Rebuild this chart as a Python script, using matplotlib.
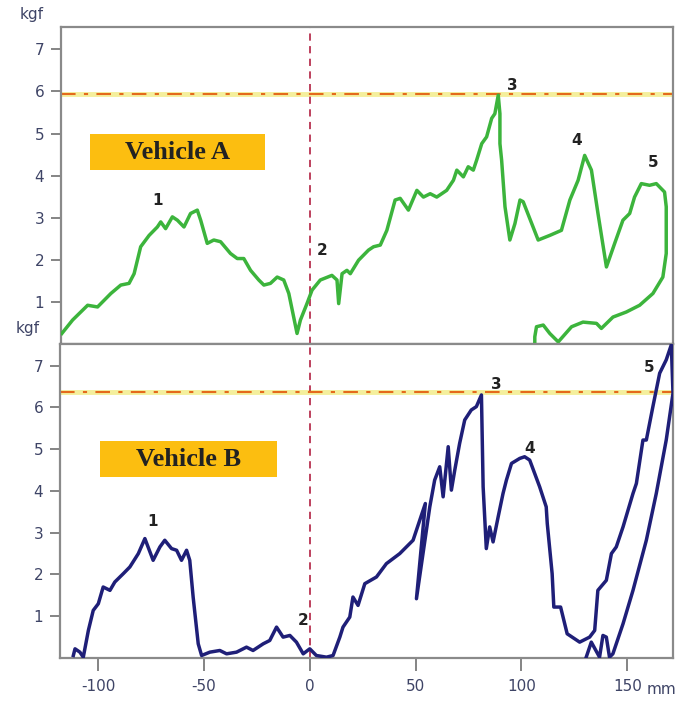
import matplotlib
matplotlib.use("Agg")
import matplotlib.pyplot as plt
from matplotlib.patches import Rectangle

# ---------------- data (mm, kgf) ----------------
a_x = [-117.6, -112.5, -105.4, -100.7, -94.4, -89.7, -85.8, -83.4, -80.3, -76.3, -72.4, -70.8,
       -68.5, -65.3, -62.9, -59.8, -56.7, -53.5, -51.9, -48.8, -45.7, -42.5, -37.8, -34.6,
       -31.5, -28.3, -24.4, -22.0, -18.9, -15.7, -12.6, -10.2, -7.9, -6.3, -4.7, -1.6, 0.8,
       4.7, 10.2, 12.6, 13.4, 15.0, 17.3, 18.9, 22.8, 27.5, 29.9, 33.1, 36.2, 40.1, 42.5,
       46.4, 50.4, 53.5, 56.7, 59.8, 64.5, 67.7, 69.3, 72.4, 74.7, 77.1, 78.7, 81.1, 83.4,
       85.8, 87.3, 88.9, 89.7, 89.7, 90.5, 92.1, 94.4, 96.8, 99.2, 100.7, 107.8, 113.3,
       118.8, 122.8, 126.7, 129.8, 133.0, 136.1, 140.1, 144.0, 147.9, 151.1, 153.4, 156.6,
       160.5, 163.7, 167.6, 168.4, 168.4, 166.8, 162.1, 155.8, 149.5, 143.2, 137.7, 135.4,
       129.0, 123.6, 117.3, 113.3, 110.2, 107.0, 106.2, 106.2]
a_y = [0.25, 0.57, 0.92, 0.88, 1.20, 1.40, 1.44, 1.67, 2.31, 2.58, 2.78, 2.90,
       2.74, 3.02, 2.94, 2.78, 3.10, 3.18, 2.94, 2.39, 2.47, 2.43, 2.15, 2.03,
       2.03, 1.75, 1.52, 1.40, 1.44, 1.59, 1.52, 1.20, 0.64, 0.25, 0.57, 0.96, 1.28,
       1.52, 1.63, 1.52, 0.96, 1.67, 1.75, 1.67, 1.99, 2.23, 2.31, 2.35, 2.70, 3.42, 3.46,
       3.18, 3.65, 3.49, 3.57, 3.49, 3.65, 3.89, 4.13, 3.97, 4.21, 4.13, 4.37, 4.76, 4.92,
       5.36, 5.47, 5.91, 5.47, 4.76, 4.37, 3.26, 2.47, 2.86, 3.42, 3.38, 2.47, 2.58,
       2.70, 3.42, 3.89, 4.48, 4.13, 3.10, 1.83, 2.39, 2.94, 3.10, 3.49, 3.81,
       3.77, 3.81, 3.61, 3.26, 2.15, 1.59, 1.20, 0.92, 0.76, 0.64, 0.37, 0.49,
       0.52, 0.41, 0.05, 0.25, 0.45, 0.41, 0.17, -0.07]

b_x = [-111.7, -110.9, -108.6, -107.0, -104.6, -102.3, -99.9, -97.6, -94.4, -92.1, -88.1,
       -85.0, -81.0, -77.9, -74.0, -70.8, -68.5, -65.3, -62.9, -60.6, -58.2, -56.7, -55.1,
       -52.7, -51.1, -47.2, -42.5, -39.3, -34.6, -29.9, -26.8, -22.0, -18.9, -15.7, -12.6,
       -9.4, -6.3, -3.1, 0.0, 3.1, 7.9, 11.0, 14.2, 15.7, 18.9, 20.4, 22.8, 26.0, 31.5,
       36.2, 42.5, 48.8, 54.6, 50.4, 56.7, 59.0, 61.4, 63.0, 65.4, 66.9, 68.5, 70.8, 73.2,
       76.3, 78.7, 81.1, 81.9, 83.4, 85.0, 86.6, 89.0, 91.3, 92.9, 95.3, 99.2, 101.5,
       103.9, 108.6, 111.7, 112.2, 114.5, 115.3, 118.5, 121.6, 127.5, 132.2, 134.6, 136.1,
       140.1, 142.5, 144.8, 148.0, 152.7, 154.3, 157.4, 159.0, 162.1, 163.7, 165.3, 168.4,
       170.8, 171.6, 168.4, 163.7, 159.0, 152.7, 148.0, 143.2, 141.6, 140.1, 138.5, 136.9,
       133.0, 130.6]
b_y = [0.06, 0.22, 0.14, 0.02, 0.66, 1.14, 1.30, 1.70, 1.62, 1.82, 2.02,
       2.18, 2.50, 2.86, 2.34, 2.66, 2.82, 2.62, 2.58, 2.34, 2.58, 2.34, 1.46,
       0.34, 0.06, 0.14, 0.18, 0.10, 0.14, 0.26, 0.18, 0.34, 0.42, 0.74, 0.50,
       0.54, 0.38, 0.10, 0.22, 0.06, 0.02, 0.06, 0.50, 0.74, 0.98, 1.46, 1.26, 1.78, 1.94,
       2.26, 2.50, 2.82, 3.70, 1.42, 3.62, 4.26, 4.58, 3.86, 5.06, 4.02, 4.50, 5.14, 5.70,
       5.94, 6.02, 6.30, 4.10, 2.62, 3.14, 2.78, 3.38, 3.94, 4.26, 4.66, 4.78, 4.82,
       4.74, 4.10, 3.62, 3.22, 2.02, 1.22, 1.22, 0.58, 0.38, 0.50, 0.66, 1.62,
       1.86, 2.50, 2.66, 3.14, 3.94, 4.18, 5.22, 5.22, 6.02, 6.42, 6.82, 7.14,
       7.50, 6.34, 5.22, 3.94, 2.82, 1.62, 0.82, 0.10, 0.02, 0.50, 0.54, 0.02,
       0.38, 0.02]

a_limit = 5.95
b_limit = 6.36

a_peak_labels = ["1", "2", "3", "4", "5"]
a_peak_x = [-72.2, 5.7, 95.6, 126.0, 162.4]
a_peak_y = [3.42, 2.23, 6.15, 4.84, 4.30]
b_peak_labels = ["1", "2", "3", "4", "5"]
b_peak_x = [-74.1, -3.3, 88.3, 103.9, 160.4]
b_peak_y = [3.28, 0.90, 6.56, 5.02, 6.95]

x_ticks = [-100, -50, 0, 50, 100, 150]
x_ticklabels = ["-100", "-50", "0", "50", "100", "150"]
y_ticks = [1, 2, 3, 4, 5, 6, 7]

# ---------------- figure ----------------
W, H = 679, 701
fig = plt.figure(figsize=(W / 100, H / 100), dpi=100)

def frac(l, t, r, b):
    return [l / W, 1 - b / H, (r - l) / W, (b - t) / H]

axA = fig.add_axes(frac(61, 27, 673, 344))
axB = fig.add_axes(frac(60, 344, 673, 658))

tick_col = "#3e4466"
spine_col = "#8a8a8a"
xlim = (-118, 171.6)

for ax, ymax in ((axA, 7.53), (axB, 7.52)):
    ax.set_xlim(*xlim)
    ax.set_ylim(0, ymax)
    ax.set_yticks(y_ticks)
    ax.tick_params(axis="y", direction="out", length=7, width=1.2, color="#707070",
                   labelcolor=tick_col, labelsize=11, pad=5)
    for s in ax.spines.values():
        s.set_color(spine_col)
        s.set_linewidth(1.6)
    ax.axvline(0, color="#b83250", lw=1.3, ls=(0, (4, 3)), zorder=2)

axA.set_xticks([])
axA.spines["bottom"].set_color("#666666")
axB.set_xticks(x_ticks)
axB.set_xticklabels(x_ticklabels)
axB.tick_params(axis="x", direction="out", length=9, width=1.2, color="#707070",
                labelcolor=tick_col, labelsize=11, pad=6)

# limit lines
for ax, lim in ((axA, a_limit), (axB, b_limit)):
    ax.axhline(lim, color="#f4ef9c", lw=3.5, zorder=1)
    ax.axhline(lim, color="#e46a1c", lw=1.5, ls=(0, (7, 4, 2, 4)), zorder=2)

# curves
axA.plot(a_x, a_y, color="#3cb43c", lw=2.5, zorder=3, solid_joinstyle="round")
axB.plot(b_x, b_y, color="#1f1f78", lw=2.5, zorder=3, solid_joinstyle="round")

for lbls, xs, ys, ax in ((a_peak_labels, a_peak_x, a_peak_y, axA),
                         (b_peak_labels, b_peak_x, b_peak_y, axB)):
    for t, x, y in zip(lbls, xs, ys):
        ax.text(x, y, t, ha="center", va="center", fontsize=11, fontweight="bold",
                color="#222222", zorder=4)

# vehicle label boxes
for ax, (l, b, w, h), txt in ((axA, (0.047, 0.549, 0.286, 0.114), "Vehicle A"),
                              (axB, (0.065, 0.576, 0.289, 0.115), "Vehicle B")):
    ax.add_patch(Rectangle((l, b), w, h, transform=ax.transAxes, facecolor="#fcbe10",
                           edgecolor="none", zorder=5))
    ax.text(l + w / 2, b + h / 2 - 0.021, txt, transform=ax.transAxes, ha="center",
            va="baseline", fontsize=19, fontweight="bold", family="Liberation Serif",
            color="#222222", zorder=6)

# unit labels
fig.text(32 / W, 1 - 15 / H, "kgf", ha="center", va="center", fontsize=11, color=tick_col)
fig.text(28 / W, 1 - 329 / H, "kgf", ha="center", va="center", fontsize=11, color=tick_col)
fig.text(661 / W, 1 - 689 / H, "mm", ha="center", va="center", fontsize=11, color=tick_col)

fig.savefig("out.png", dpi=100)
